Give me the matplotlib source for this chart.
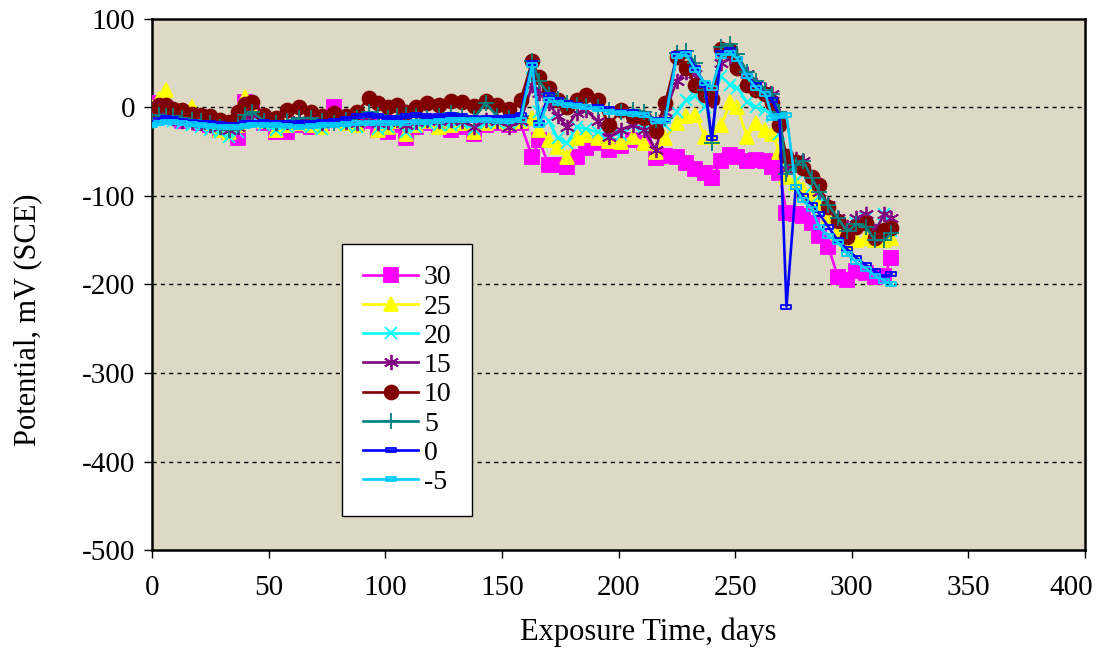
import numpy as np
import matplotlib.pyplot as plt
import matplotlib.transforms as mtransforms
from matplotlib.path import Path

plt.rcParams['font.family'] = ['Liberation Serif', 'DejaVu Serif']
plt.rcParams['axes.unicode_minus'] = False

# sampling days shared by all temperature series
days = [0, 3, 6, 9, 13, 17, 21, 25, 29, 33,
        37, 40, 43, 48, 53, 58, 63, 68, 73, 78,
        83, 88, 93, 97, 101, 105, 109, 113, 118, 123,
        128, 133, 138, 143, 148, 153, 158, 163, 166, 170,
        174, 178, 182, 186, 191, 196, 201, 206, 211, 216,
        220, 225, 229, 233, 237, 240, 244, 248, 251, 255,
        259, 263, 266, 269, 272, 276, 279, 283, 286, 290,
        294, 298, 302, 306, 310, 314, 317]

# potential, mV (SCE)
p30 = [5, 0, -5, -10, -15, -12, -18, -20, -25, -28,
       -35, 6, -5, -18, -28, -28, -20, -22, -18, 0,
       -12, -18, -15, -25, -28, -20, -35, -22, -18, -20,
       -26, -22, -30, -20, -18, -20, -18, -56, -37, -65,
       -65, -67, -56, -46, -40, -48, -44, -37, -40, -57,
       -55, -56, -63, -70, -74, -80, -61, -54, -56, -61,
       -59, -61, -67, -74, -119, -120, -123, -131, -145, -158,
       -191, -195, -185, -187, -191, -190, -170]
p25 = [0, 10, 20, -5, -10, 0, -12, -18, -25, -28,
       -20, 12, -2, -15, -25, -20, -18, -20, -22, -10,
       -18, -20, -12, -25, -22, -15, -30, -20, -15, -22,
       -20, -18, -28, -18, -15, -18, -15, -12, -25, -37,
       -45, -56, -35, -31, -35, -38, -39, -33, -40, -50,
       -35, -18, -10, -8, -33, -33, -20, 6, 0, -33,
       -18, -25, -30, -50, -78, -85, -92, -98, -110, -125,
       -142, -152, -150, -148, -150, -150, -148]
p20 = [-10, -12, -14, -15, -18, -20, -22, -25, -28, -33,
       -28, -15, -12, -20, -25, -22, -20, -22, -24, -18,
       -20, -22, -16, -24, -22, -18, -28, -22, -18, -20,
       -20, -18, -24, -18, -16, -18, -15, 45, -5, -15,
       -35, -40, -22, -24, -28, -30, -31, -20, -22, -22,
       -20, -5, 8, 13, 0, 10, 35, 25, 22, 6,
       0, -3, -10, -30, -70, -62, -75, -90, -100, -115,
       -130, -145, -130, -125, -140, -120, -140]
p15 = [-12, -10, -10, -12, -15, -16, -18, -20, -22, -25,
       -22, -10, -8, -15, -18, -16, -14, -15, -18, -14,
       -16, -18, -12, -18, -16, -14, -20, -16, -14, -15,
       -14, -15, -22, -14, -15, -22, -15, 25, 16, 5,
       -10, -22, -6, -3, -15, -33, -25, -20, -25, -48,
       -5, 30, 40, 38, 20, 8, 50, 56, 45, 38,
       25, 20, 15, -10, -70, -58, -60, -80, -95, -110,
       -125, -135, -125, -120, -140, -120, -125]
p10 = [-2, 3, 3, -2, -3, -7, -8, -10, -14, -16,
       -5, 4, 6, -8, -12, -3, 0, -5, -10, -6,
       -10, -5, 11, 5, 0, 3, -5, 0, 5, 3,
       7, 6, 2, 7, 3, -2, 8, 52, 34, 22,
       8, 0, 9, 14, 8, -20, -3, -10, -12, -27,
       5, 57, 45, 25, 14, 10, 66, 65, 45, 25,
       20, 15, 5, -20, -55, -62, -68, -78, -88, -112,
       -128, -146, -135, -130, -147, -138, -136]
p5 = [-15, -8, -10, -10, -12, -14, -15, -18, -22, -25,
      -20, -8, -5, -15, -18, -15, -12, -12, -15, -18,
      -14, -12, -5, -8, -12, -10, -8, -10, -12, -10,
      -6, -10, -12, 5, -10, -12, -10, 52, 30, 15,
      10, 5, 3, 2, 0, -3, -5, -3, -5, -14,
      -12, 62, 64, 50, 20, -40, 68, 72, 60, 40,
      30, 20, 15, -5, -75, -65, -60, -80, -95, -110,
      -125, -140, -132, -135, -150, -150, -142]
p0 = [-18, -14, -12, -13, -15, -16, -17, -18, -19, -20,
      -20, -18, -17, -16, -17, -18, -18, -17, -16, -15,
      -13, -10, -8, -10, -12, -12, -10, -9, -10, -10,
      -8, -10, -12, -12, -12, -11, -8, 50, -18, 14,
      8, 5, 3, 0, 0, -2, -5, -5, -8, -14,
      -14, 60, 62, 45, 25, -35, 62, 65, 55, 35,
      25, 15, 8, -10, -225, -90, -100, -110, -120, -135,
      -150, -160, -170, -178, -185, -192, -188]
pm5 = [-20, -18, -16, -16, -18, -19, -20, -21, -22, -22,
       -22, -21, -20, -20, -20, -21, -22, -21, -20, -20,
       -19, -18, -17, -17, -17, -18, -17, -16, -16, -15,
       -14, -14, -14, -14, -15, -15, -14, 48, -20, 8,
       5, 3, 2, 0, -2, -5, -6, -7, -8, -15,
       -15, 58, 60, 42, 28, 22, 58, 62, 55, 35,
       22, 15, -12, -10, -8, -90, -105, -115, -135, -145,
       -152, -165, -175, -182, -190, -196, -200]

# hollow flat rectangle used for the two lowest-temperature series
bar_marker = Path([(-1, -0.35), (1, -0.35), (1, 0.35), (-1, 0.35), (-1, -0.35)],
                  [Path.MOVETO, Path.LINETO, Path.LINETO, Path.LINETO, Path.CLOSEPOLY])

series = [
    ('30', p30, '#FF00FF', 's', 10, '#FF00FF'),
    ('25', p25, '#FFFF00', '^', 10, '#FFFF00'),
    ('20', p20, '#00FFFF', 'x', 9, '#00FFFF'),
    ('15', p15, '#800080', (6, 2, 0), 11, '#800080'),
    ('10', p10, '#800000', 'o', 10, '#800000'),
    ('5', p5, '#008080', '+', 12, '#008080'),
    ('0', p0, '#0000FF', bar_marker, 7, 'none'),
    ('-5', pm5, '#00CCFF', bar_marker, 7, 'none'),
]

fig = plt.figure(figsize=(10.99, 6.54), dpi=100)
ax = fig.add_axes([0.1383, 0.159, 0.849, 0.812])
ax.set_facecolor('#DDD9C4')

for label, vals, color, marker, ms, face in series:
    ax.plot(days, vals, color=color, lw=1.9, marker=marker, ms=ms,
            markerfacecolor=face, markeredgecolor=color, markeredgewidth=1.3,
            label=label, zorder=3)

ax.set_xlim(0, 400)
ax.set_ylim(-500, 100)
ax.set_xticks(np.arange(0, 401, 50))
ax.set_yticks(np.arange(-500, 101, 100))
for y in range(-400, 1, 100):
    ax.axhline(y, color='black', lw=1.0, ls=(0, (3, 3)), zorder=1)

for s in ax.spines.values():
    s.set_linewidth(1.8)
ax.tick_params(direction='out', length=6, width=1, labelsize=21)
ax.tick_params(axis='y', pad=6)
ax.tick_params(axis='x', pad=12)

# keep the last x label inside the figure
last = ax.get_xticklabels()[-1]
last.set_horizontalalignment('right')
last.set_transform(last.get_transform() +
                   mtransforms.ScaledTranslation(8 / 100, 0, fig.dpi_scale_trans))

ax.set_xlabel('Exposure Time, days', fontsize=22)
ax.set_ylabel('Potential, mV (SCE)', fontsize=22)
ax.xaxis.set_label_coords(0.532, -0.128)
ax.yaxis.set_label_coords(-0.118, 0.433)

leg = ax.legend(loc='lower left', bbox_to_anchor=(0.2036, 0.064), fontsize=20,
                frameon=True, fancybox=False, edgecolor='black', framealpha=1,
                handlelength=2.0, labelspacing=0.137, borderpad=0.75,
                handletextpad=0.2, borderaxespad=0)
leg.get_frame().set_linewidth(1.0)
leg.set_zorder(5)

fig.savefig('out.png', dpi=100)
